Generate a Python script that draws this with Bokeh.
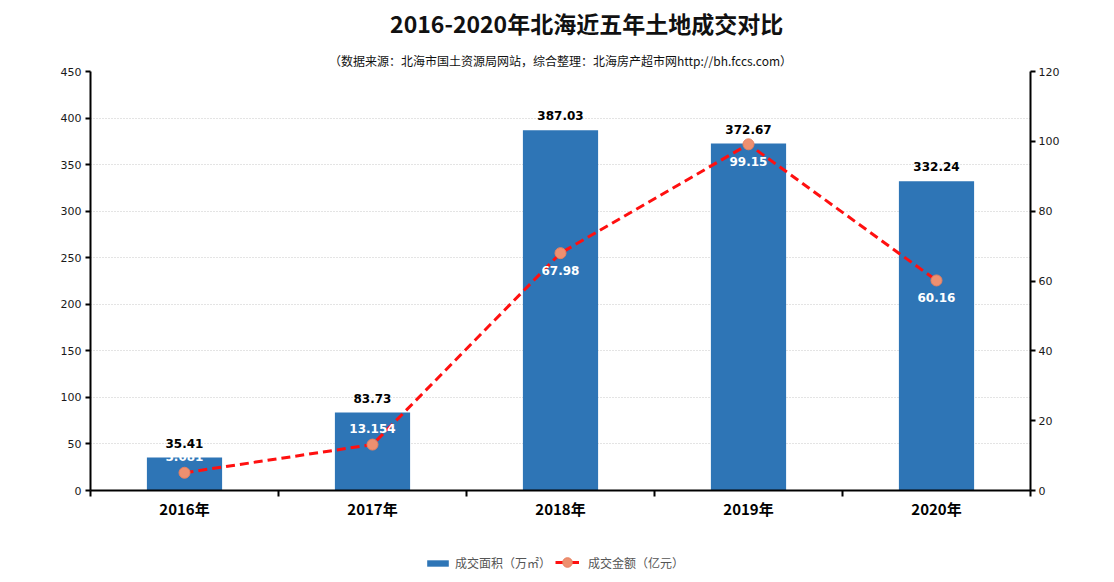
from bokeh.plotting import figure
from bokeh.models import (Range1d, LinearAxis, FixedTicker, ColumnDataSource, LabelSet,
                          Legend, LegendItem, Title, Label)
from bokeh.core.properties import value
from bokeh.layouts import column
from bokeh.embed import file_html
from bokeh.resources import INLINE

title_text = "2016-2020年北海近五年土地成交对比"
subtitle_text = "（数据来源：北海市国土资源局网站，综合整理：北海房产超市网http://bh.fccs.com）"
years = ["2016年", "2017年", "2018年", "2019年", "2020年"]
area = [35.41, 83.73, 387.03, 372.67, 332.24]
amount = [5.081, 13.154, 67.98, 99.15, 60.16]
area_labels = ["35.41", "83.73", "387.03", "372.67", "332.24"]
amount_labels = ["5.081", "13.154", "67.98", "99.15", "60.16"]
series_names = ["成交面积（万㎡）", "成交金额（亿元）"]

xpos = [i + 0.5 for i in range(len(years))]
# label placement: above the point for small values, below otherwise
amt_dy = [16 if v < 20 else -17 for v in amount]

src = ColumnDataSource(dict(x=xpos, area=area, amount=amount, al=area_labels,
                            ml=amount_labels, dy=amt_dy))

FONT = "Noto Sans CJK SC"
BAR_COLOR = "#2E75B6"
LINE_COLOR = "#FF1010"
DOT_FILL = "#EE9070"
DOT_LINE = "#E88060"
W = 1114

# ---- title strip ----
p0 = figure(width=W, height=47, output_backend="svg", toolbar_location=None,
            x_range=Range1d(0, W), y_range=Range1d(0, 47), min_border=0,
            x_axis_location=None, y_axis_location=None, title=None)
p0.outline_line_color = None
p0.xgrid.grid_line_color = None
p0.ygrid.grid_line_color = None
p0.add_layout(Label(x=588, y=25, text=title_text, text_align="center", text_baseline="middle",
                    text_font=FONT, text_font_size="23px", text_font_style="bold",
                    text_color="#111111"))

# ---- main chart ----
p = figure(width=W, height=493, output_backend="svg", toolbar_location=None,
           x_range=Range1d(0, 5), y_range=Range1d(0, 450),
           min_border_left=90, min_border_right=84, min_border_top=23, min_border_bottom=50,
           title=None)
p.outline_line_color = None
p.background_fill_color = "white"
p.border_fill_color = "white"

p.extra_y_ranges = {"y2": Range1d(0, 120)}

sub = Title(text=subtitle_text, align="center", offset=28, text_font=FONT,
            text_font_size="12px", text_font_style="normal", text_color="#111111", standoff=5)
p.add_layout(sub, "above")

bars = p.vbar(x="x", top="area", width=0.4, source=src, color=BAR_COLOR, line_color=None)
line = p.line(x="x", y="amount", source=src, y_range_name="y2", line_color=LINE_COLOR,
              line_width=3, line_dash="9 5")
dots = p.scatter(x="x", y="amount", source=src, y_range_name="y2", size=11,
                 fill_color=DOT_FILL, line_color=DOT_LINE, line_width=1)

p.add_layout(LabelSet(x="x", y="area", text="al", source=src, y_offset=10,
                      text_align="center", text_baseline="bottom",
                      text_font=value("DejaVu Sans"),
                      text_font_size="12px", text_font_style="bold", text_color="#000000"))
p.add_layout(LabelSet(x="x", y="amount", text="ml", source=src, y_range_name="y2",
                      y_offset="dy", text_align="center", text_baseline="middle",
                      text_font=value("DejaVu Sans"), text_font_size="12px",
                      text_font_style="bold", text_color="#ffffff"))

# axes
xa = p.xaxis[0]
xa.ticker = FixedTicker(ticks=xpos, minor_ticks=[0, 1, 2, 3, 4, 5])
xa.major_label_overrides = {x: y for x, y in zip(xpos, years)}
xa.major_tick_line_color = None
xa.minor_tick_line_color = "black"
xa.minor_tick_line_width = 2
xa.minor_tick_out = 6
xa.minor_tick_in = 0
xa.axis_line_width = 2
xa.axis_line_color = "black"
xa.major_label_text_font = FONT
xa.major_label_text_font_size = "15px"
xa.major_label_text_font_style = "bold"
xa.major_label_text_color = "#000000"
xa.major_label_standoff = 1

ya = p.yaxis[0]
ya.ticker = FixedTicker(ticks=list(range(0, 451, 50)))
ya.axis_line_width = 2
ya.axis_line_color = "black"
ya.major_tick_line_width = 2
ya.major_tick_out = 5
ya.major_tick_in = 0
ya.minor_tick_line_color = None
ya.major_label_text_font = "DejaVu Sans"
ya.major_label_text_font_size = "11px"
ya.major_label_text_color = "#1a1a1a"
ya.major_label_standoff = 4

ra = LinearAxis(y_range_name="y2", ticker=FixedTicker(ticks=list(range(0, 121, 20))))
ra.axis_line_width = 2
ra.axis_line_color = "black"
ra.major_tick_line_width = 2
ra.major_tick_out = 5
ra.major_tick_in = 0
ra.minor_tick_line_color = None
ra.major_label_text_font = "DejaVu Sans"
ra.major_label_text_font_size = "11px"
ra.major_label_text_color = "#1a1a1a"
ra.major_label_standoff = 3
p.add_layout(ra, "right")

p.xgrid.grid_line_color = None
p.ygrid.grid_line_color = "#c8c8c8"
p.ygrid.grid_line_dash = "1 2"
p.ygrid.grid_line_width = 1

# ---- legend strip below the chart (hidden copies of the series, only the legend shows) ----
p2 = figure(width=W, height=42, output_backend="svg", toolbar_location=None,
            x_range=Range1d(0, 5), y_range=Range1d(0, 450), min_border=0,
            x_axis_location=None, y_axis_location=None, title=None)
p2.extra_y_ranges = {"y2": Range1d(0, 120)}
p2.outline_line_color = None
p2.xgrid.grid_line_color = None
p2.ygrid.grid_line_color = None
lb = p2.vbar(x="x", top="area", width=0.4, source=src, color=BAR_COLOR, line_color=None,
             visible=False)
ll = p2.line(x="x", y="amount", source=src, y_range_name="y2", line_color=LINE_COLOR,
             line_width=3, visible=False)
ld = p2.scatter(x="x", y="amount", source=src, y_range_name="y2", size=11,
                fill_color=DOT_FILL, line_color=DOT_LINE, visible=False)

leg_style = dict(orientation="horizontal", label_text_font=FONT, label_text_font_size="12px",
                 label_text_color="#555555", border_line_color=None,
                 background_fill_alpha=0, margin=0, padding=2, click_policy="none")
leg1 = Legend(items=[LegendItem(label=series_names[0], renderers=[lb])],
              location=(334, 11), glyph_width=27, glyph_height=8, label_standoff=4,
              **leg_style)
leg2 = Legend(items=[LegendItem(label=series_names[1], renderers=[ll, ld])],
              location=(465, 7), glyph_width=24, glyph_height=26, label_standoff=9,
              **leg_style)
p2.add_layout(leg1)
p2.add_layout(leg2)

layout = column(p0, p, p2, spacing=0)
open("out.html", "w").write(file_html(layout, INLINE))
